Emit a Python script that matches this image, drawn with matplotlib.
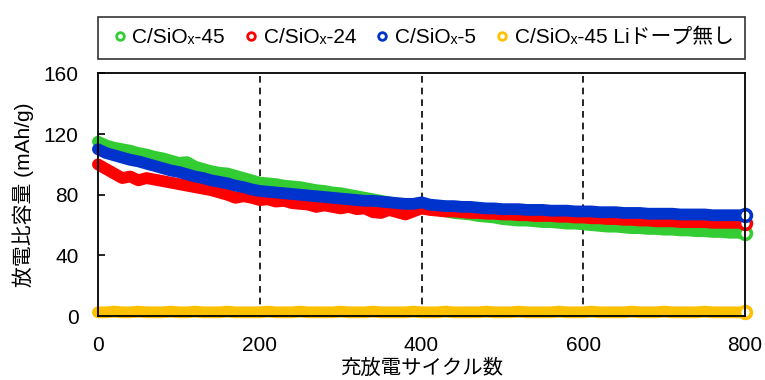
import matplotlib
matplotlib.use('Agg')
import matplotlib.pyplot as plt
from matplotlib.lines import Line2D

plt.rcParams['font.family'] = ['Liberation Sans', 'Noto Sans CJK JP', 'DejaVu Sans']

# cycle number (every 10th cycle)
cycles = list(range(0, 801, 10))

# discharge specific capacity (mAh/g)
cap_45 = [
    115, 112.5, 111, 110, 109, 107.5, 106.5, 105, 104, 102.5,
    101, 101.5, 98.5, 97, 95.5, 94.5, 94, 92.5, 91, 89.5,
    88, 87.5, 87, 86, 85.5, 85, 84, 83, 82.5, 81.5,
    81, 80, 79, 78, 77, 76, 75, 74, 73, 72,
    71, 70.5, 70, 69, 68, 67.5, 67, 66, 65.5, 65,
    64, 63.5, 63, 63, 62.5, 62, 62, 61.5, 61, 61,
    60.5, 60, 59.5, 59, 59, 58.5, 58, 58, 57.5, 57.5,
    57, 57, 56.5, 56.5, 56, 56, 55.5, 55.5, 55, 55,
    54.5,
]
cap_24 = [
    100, 97, 94, 91, 92, 89.5, 91, 90, 89, 88,
    87, 86, 85, 84, 83, 81.5, 80, 78, 79, 78,
    76.5, 77, 75.5, 76, 74.5, 74, 73.5, 72, 73, 72,
    71, 72, 70.5, 71, 68.5, 68, 70, 68.5, 67, 69,
    71, 70, 69.5, 69, 69, 68.5, 68, 68, 67.5, 67.5,
    67, 67, 66.5, 66.5, 66, 66, 66, 65.5, 65.5, 65,
    65, 64.5, 64.5, 64, 64, 63.5, 63.5, 63, 63, 62.5,
    62.5, 62.5, 62, 62, 62, 62, 61.5, 61.5, 61.5, 61.5,
    61.5,
]
cap_5 = [
    110, 107.5, 106, 104.5, 103, 102, 100.5, 99, 97.5, 96,
    95, 93.5, 92, 91, 89.5, 88.5, 87.5, 86, 85, 83.5,
    82.5, 82, 81.5, 81, 80.5, 80, 79.5, 79, 78.5, 78,
    77.5, 77, 76.5, 76, 76, 75.5, 75, 74.5, 74, 74,
    75, 73.5, 73, 72.5, 72.5, 72, 72, 71.5, 71, 71,
    70.5, 70.5, 70.5, 70, 70, 70, 69.5, 69.5, 69.5, 69,
    69, 69, 68.5, 68.5, 68.5, 68, 68, 68, 67.5, 67.5,
    67.5, 67.5, 67, 67, 67, 67, 66.5, 66.5, 66.5, 66.5,
    66.5,
]
cap_45_undoped = [
    2.5, 2.5, 3, 2.5, 2.5, 3, 2.5, 2.5, 2.5, 3,
    2.5, 2.5, 3, 2.5, 2.5, 2.5, 3, 2.5, 2.5, 2.5,
    2.5, 3, 2.5, 2.5, 2.5, 3, 2.5, 2.5, 2.5, 2.5,
    3, 2.5, 2.5, 2.5, 3, 2.5, 2.5, 2.5, 2.5, 3,
    2.5, 2.5, 2.5, 3, 2.5, 2.5, 2.5, 2.5, 3, 2.5,
    2.5, 2.5, 3, 2.5, 2.5, 2.5, 2.5, 3, 2.5, 2.5,
    2.5, 3, 2.5, 2.5, 2.5, 2.5, 3, 2.5, 2.5, 2.5,
    3, 2.5, 2.5, 2.5, 2.5, 3, 2.5, 2.5, 2.5, 2.5,
    2.5,
]

series = [
    ('C/SiOₓ-45', cap_45, '#33cc33'),
    ('C/SiOₓ-24', cap_24, '#ff0000'),
    ('C/SiOₓ-5', cap_5, '#0033cc'),
    ('C/SiOₓ-45 Liドープ無し', cap_45_undoped, '#ffc000'),
]

fig = plt.figure(figsize=(7.65, 3.8), dpi=100)
ax = fig.add_axes([0.128, 0.168, 0.846, 0.639])

handles = []
for label, vals, color in series:
    ax.plot(cycles, vals, '-', color=color, lw=8.5, solid_capstyle='round',
            solid_joinstyle='round', clip_on=False)
    # last point drawn as open circle
    ax.plot(cycles[-1], vals[-1], 'o', ms=8.5, mfc='white', mec=color, mew=2.6,
            clip_on=False)
    handles.append(Line2D([], [], ls='none', marker='o', ms=5.5, mfc='white',
                          mec=color, mew=2, label=label))

for xv in [200, 400, 600]:
    ax.axvline(xv, color='black', ls=(0, (4, 3)), lw=1.2, zorder=0)

ax.set_xlim(0, 800)
ax.set_ylim(0, 160)
ax.set_xticks([0, 200, 400, 600, 800])
ax.set_yticks([0, 40, 80, 120, 160])
ax.tick_params(direction='in', length=5, width=1.2, labelsize=15, pad=14)
for sp in ax.spines.values():
    sp.set_linewidth(1.3)

ax.set_xlabel('充放電サイクル数', fontsize=14.7, labelpad=3)
ax.set_ylabel('放電比容量 (mAh/g)', fontsize=15, labelpad=7)

leg = ax.legend(handles=handles, loc='lower left', bbox_to_anchor=(0, 1.06, 1, 0.1),
                mode='expand', ncol=4, fontsize=15, frameon=True, fancybox=False,
                edgecolor='black', handletextpad=0.1, handlelength=1.0,
                borderaxespad=0, borderpad=0.55, columnspacing=0.8)
leg.get_frame().set_linewidth(1.2)

fig.savefig('out.png', dpi=100)
